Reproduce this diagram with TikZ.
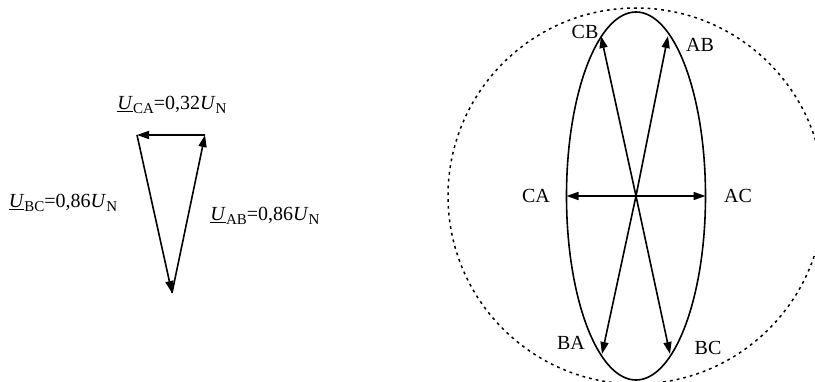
\documentclass[tikz,border=0pt]{standalone}
\usepackage{fontspec}
\setmainfont{Liberation Serif}
\usetikzlibrary{arrows.meta}
\newcommand\mysb[1]{\raisebox{-3.5pt}{\fontsize{15}{15}\selectfont #1}}
\newcommand\myU{\underline{\textit{U}}}
\tikzset{
  vec/.style={line width=1.6pt,-{Triangle[length=12pt,width=8pt]}},
  dvec/.style={line width=1.6pt,{Triangle[length=12pt,width=8pt]}-{Triangle[length=12pt,width=8pt]}},
  lbl/.style={font=\fontsize{20}{23}\selectfont,inner sep=0pt},
  dotcirc/.style={line width=1.5pt,dash pattern=on 2.8pt off 4pt}
}
\begin{document}
\begin{tikzpicture}[x=1pt,y=-1pt]
\useasboundingbox (0,0) rectangle (815,382);
\clip (0,0) rectangle (815,382);
% left triangle
\coordinate (P1) at (137,135);
\coordinate (P2) at (205,135);
\coordinate (P3) at (172,293);
\draw[vec] (P2) -- (P1);
\draw[vec] (P1) -- (P3);
\draw[vec] (P3) -- (P2);
\node[lbl] (lca) at (172,105) {\myU\mysb{CA}=0,32\textit{U}\mysb{N}};
\node[lbl] (lbc) at (63,203) {\myU\mysb{BC}=0,86\textit{U}\mysb{N}};
\node[lbl] (lab) at (265,216) {\myU\mysb{AB}=0,86\textit{U}\mysb{N}};
% right diagram
\coordinate (O) at (636,196);
\draw[dotcirc] (O) circle (188);
\draw[line width=1.6pt] (O) ellipse (69.5 and 184);
\coordinate (tAC) at (705.5,196);
\coordinate (tCA) at (566.5,196);
\coordinate (tAB) at (668,36);
\coordinate (tCB) at (601,36);
\coordinate (tBA) at (602,354);
\coordinate (tBC) at (670,354);
\draw[dvec] (tCA) -- (tAC);
\draw[vec] (O) -- (tAB);
\draw[vec] (O) -- (tCB);
\draw[vec] (O) -- (tBA);
\draw[vec] (O) -- (tBC);
\node[lbl] (nCB) at (585,32) {CB};
\node[lbl] (nAB) at (700,45) {AB};
\node[lbl] (nCA) at (536,196) {CA};
\node[lbl] (nAC) at (738,196) {AC};
\node[lbl] (nBA) at (571,343) {BA};
\node[lbl] (nBC) at (708,348) {BC};
\end{tikzpicture}
\end{document}
